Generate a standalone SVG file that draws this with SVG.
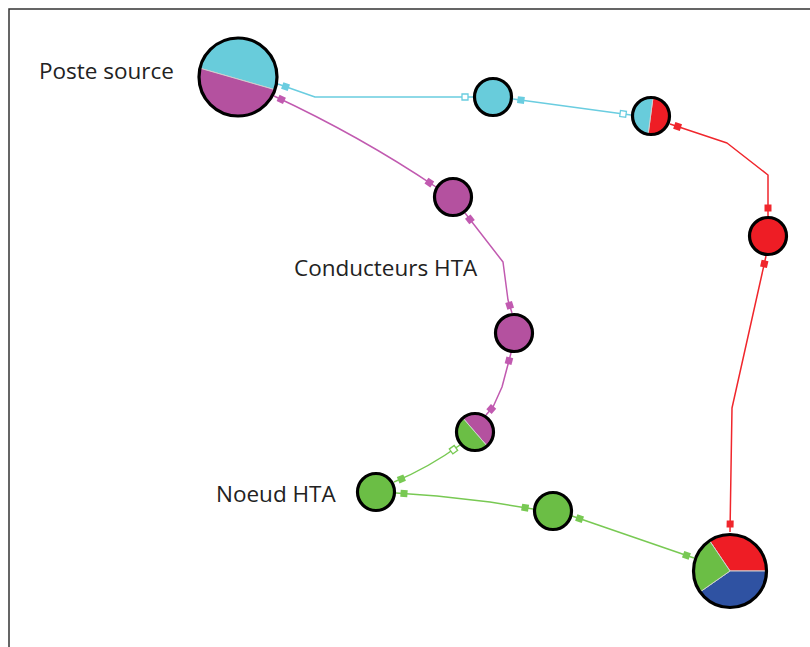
<svg xmlns="http://www.w3.org/2000/svg" width="810" height="647" viewBox="0 0 810 647">
<style>
.lbl{font-family:"Open Sans","Noto Sans",sans-serif;font-size:22.5px;fill:#222}
.ring{fill:none;stroke:#000;stroke-width:3.2}
.sec{stroke:#cfcfcf;stroke-width:1}
.cy{fill:#68CCDB}.mg{fill:#B4519F}.rd{fill:#EE1D25}.gr{fill:#6BBE45}.bl{fill:#2F52A2}
.c{fill:none;stroke-width:1.5;stroke-linejoin:round}
.cc{stroke:#6ACDE0;marker-start:url(#fc);marker-end:url(#fc)}
.cm{stroke:#C15AB0;marker-start:url(#fm);marker-end:url(#fm)}
.cr{stroke:#F0262C;marker-start:url(#fr);marker-end:url(#fr)}
.cg{stroke:#78C953;marker-start:url(#fg);marker-end:url(#fg)}
</style>
<defs>
<marker id="fc" markerUnits="userSpaceOnUse" orient="auto-start-reverse" markerWidth="1" markerHeight="1" overflow="visible"><rect x="-11.5" y="-3.5" width="7" height="7" fill="#6ACDE0"/></marker>
<marker id="oc" markerUnits="userSpaceOnUse" orient="auto-start-reverse" markerWidth="1" markerHeight="1" overflow="visible"><rect x="-11" y="-3" width="6" height="6" fill="#fff" stroke="#6ACDE0" stroke-width="1.3"/></marker>
<marker id="fm" markerUnits="userSpaceOnUse" orient="auto-start-reverse" markerWidth="1" markerHeight="1" overflow="visible"><rect x="-11.5" y="-3.5" width="7" height="7" fill="#C15AB0"/></marker>
<marker id="fr" markerUnits="userSpaceOnUse" orient="auto-start-reverse" markerWidth="1" markerHeight="1" overflow="visible"><rect x="-11.5" y="-3.5" width="7" height="7" fill="#F0262C"/></marker>
<marker id="fg" markerUnits="userSpaceOnUse" orient="auto-start-reverse" markerWidth="1" markerHeight="1" overflow="visible"><rect x="-11.5" y="-3.5" width="7" height="7" fill="#78C953"/></marker>
<marker id="og" markerUnits="userSpaceOnUse" orient="auto-start-reverse" markerWidth="1" markerHeight="1" overflow="visible"><rect x="-11" y="-3" width="6" height="6" fill="#fff" stroke="#78C953" stroke-width="1.3"/></marker>
</defs>
<rect x="9" y="9" width="900" height="700" fill="#fff" stroke="#333" stroke-width="1.5"/>
<g id="connectors">
<path class="c cc" style="marker-start:url(#oc)" d="M473 97 L315 97 L278 84"/>
<path class="c cc" style="marker-end:url(#oc)" d="M513 99 L631 115"/>
<path class="c cr" d="M670 124 L727 143 L768 175 L768 216"/>
<path class="c cr" d="M766 256 L732 408 L730 532"/>
<path class="c cm" d="M274 96 Q360 136 436 187"/>
<path class="c cm" d="M465 213 L503 262 L508 300 L512 313"/>
<path class="c cm" d="M511 353 L502 387 L493 407 L486 415"/>
<path class="c cg" style="marker-start:url(#og)" d="M460 445 Q428 468 394 482"/>
<path class="c cg" d="M396 493 L437 496 L490 502 L533 509"/>
<path class="c cg" d="M572 516 L694 558"/>
</g>
<g id="poste-source">
<path class="cy sec" d="M200 68.2 A39 39 0 1 1 274.9 89.7 Z"/>
<path class="mg sec" d="M274.9 89.7 A39 39 0 0 1 200 68.2 Z"/>
<circle class="ring" cx="238" cy="77" r="39"/>
<text class="lbl" x="39" y="79">Poste source</text>
</g>
<g id="n-cyan">
<circle class="cy" cx="493" cy="97" r="18.5"/>
<circle class="ring" cx="493" cy="97" r="18.5"/>
</g>
<g id="n-cyan-red">
<path class="rd sec" d="M653 97.6 A18.5 18.5 0 1 1 648.1 134.3 Z"/>
<path class="cy sec" d="M648.1 134.3 A18.5 18.5 0 0 1 653 97.6 Z"/>
<circle class="ring" cx="651" cy="116" r="18.5"/>
</g>
<g id="n-red">
<circle class="rd" cx="768" cy="236" r="18.5"/>
<circle class="ring" cx="768" cy="236" r="18.5"/>
</g>
<g id="n-mag1">
<circle class="mg" cx="453" cy="197" r="18.5"/>
<circle class="ring" cx="453" cy="197" r="18.5"/>
</g>
<g id="conducteurs-label">
<text class="lbl" x="294" y="276">Conducteurs HTA</text>
</g>
<g id="n-mag2">
<circle class="mg" cx="514" cy="333" r="18.5"/>
<circle class="ring" cx="514" cy="333" r="18.5"/>
</g>
<g id="n-green-mag">
<path class="mg sec" d="M462.9 418 A18.5 18.5 0 0 1 487.1 446 Z"/>
<path class="gr sec" d="M487.1 446 A18.5 18.5 0 0 1 462.9 418 Z"/>
<circle class="ring" cx="475" cy="432" r="18.5"/>
</g>
<g id="noeud-hta">
<circle class="gr" cx="376" cy="492" r="18.5"/>
<circle class="ring" cx="376" cy="492" r="18.5"/>
<text class="lbl" x="216" y="502">Noeud HTA</text>
</g>
<g id="n-green2">
<circle class="gr" cx="553" cy="511" r="18.5"/>
<circle class="ring" cx="553" cy="511" r="18.5"/>
</g>
<g id="n-big">
<path class="rd sec" d="M730 571 L709.6 540.7 A36.5 36.5 0 0 1 766.5 571 Z"/>
<path class="bl sec" d="M730 571 L766.5 571 A36.5 36.5 0 0 1 700.1 591.9 Z"/>
<path class="gr sec" d="M730 571 L700.1 591.9 A36.5 36.5 0 0 1 709.6 540.7 Z"/>
<circle class="ring" cx="730" cy="571" r="36.5"/>
</g>
</svg>
